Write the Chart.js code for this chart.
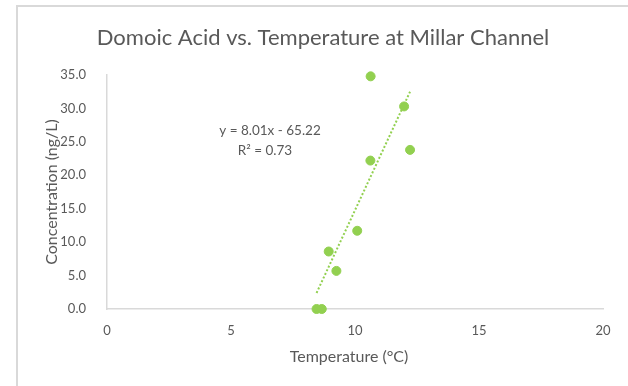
<!DOCTYPE html>
<html>
<head>
<meta charset="utf-8">
<script src="https://cdn.jsdelivr.net/npm/chart.js@4"></script>
<style>
  body { margin: 0; background: #fff; }
  #frame { position: absolute; left: 16px; top: 5px; width: 640px; height: 400px; border-left: 2px solid #d9d9d9; border-top: 2px solid #d9d9d9; }
  #wrap { position: absolute; left: 0; top: 0; width: 628px; height: 386px; }
</style>
</head>
<body>
<div id="frame"></div>
<div id="wrap"><canvas id="chart" width="628" height="386"></canvas></div>
<script>
const temperature = [10.63, 11.98, 12.22, 10.62, 10.09, 8.94, 9.25, 8.45, 8.66];
const concentration = [34.8, 30.3, 23.8, 22.2, 11.7, 8.6, 5.7, 0.0, 0.0];
const trendX = [8.45, 12.22];
const trendY = [2.4, 32.5];
const equationLines = ["y = 8.01x - 65.22", "R\u00b2 = 0.73"];
const chartTitle = "Domoic Acid vs. Temperature at Millar Channel";
const xTitle = "Temperature (\u00b0C)";
const yTitle = "Concentration (ng/L)";

const grey = "#595959";
const green = "#92d050";

// title, axis titles and trendline equation, drawn by hand
const textLabels = {
    id: "textLabels",
    afterDraw(chart) {
        const ctx = chart.ctx;
        ctx.save();
        ctx.fillStyle = grey;
        ctx.textAlign = "center";
        ctx.textBaseline = "middle";
        ctx.font = "22px Lato";
        ctx.fillText(chartTitle, 323, 38);
        ctx.font = "16px Lato";
        ctx.fillText(xTitle, 349, 357);
        ctx.save();
        ctx.translate(52, 192);
        ctx.rotate(-Math.PI / 2);
        ctx.fillText(yTitle, 0, 0);
        ctx.restore();
        ctx.font = "13.5px Lato";
        ctx.fillText(equationLines[0], 270, 131);
        ctx.fillText(equationLines[1], 265, 151);
        ctx.restore();
    }
};

new Chart(document.getElementById("chart"), {
    type: "scatter",
    data: {
        datasets: [{
            label: "Concentration",
            data: temperature.map((t, i) => ({ x: t, y: concentration[i] })),
            backgroundColor: green,
            borderColor: green,
            pointRadius: 4.5,
            pointHoverRadius: 4.5,
            clip: false
        }, {
            label: "Linear trend",
            type: "line",
            data: trendX.map((t, i) => ({ x: t, y: trendY[i] })),
            borderColor: green,
            borderWidth: 2,
            borderDash: [2, 2],
            pointRadius: 0,
            fill: false,
            clip: false
        }]
    },
    options: {
        responsive: false,
        animation: false,
        layout: { padding: { left: 0, right: 25, top: 75, bottom: 0 } },
        plugins: {
            legend: { display: false },
            tooltip: { enabled: false },
            title: { display: false }
        },
        scales: {
            x: {
                type: "linear",
                min: 0,
                max: 20,
                ticks: { stepSize: 5, color: grey, padding: 14, font: { family: "Lato", size: 13 } },
                grid: { display: false, drawTicks: false, tickLength: 0 },
                border: { display: true, color: "#d9d9d9", width: 1.5 },
                afterFit(scale) { scale.height = 77; }
            },
            y: {
                min: 0,
                max: 35,
                ticks: {
                    stepSize: 5,
                    color: grey,
                    padding: 21,
                    font: { family: "Lato", size: 13 },
                    callback: (v) => v.toFixed(1)
                },
                grid: { display: false, drawTicks: false, tickLength: 0 },
                border: { display: true, color: "#d9d9d9", width: 1.5 },
                afterFit(scale) { scale.width = 107; }
            }
        }
    },
    plugins: [textLabels]
});
</script>
</body>
</html>
